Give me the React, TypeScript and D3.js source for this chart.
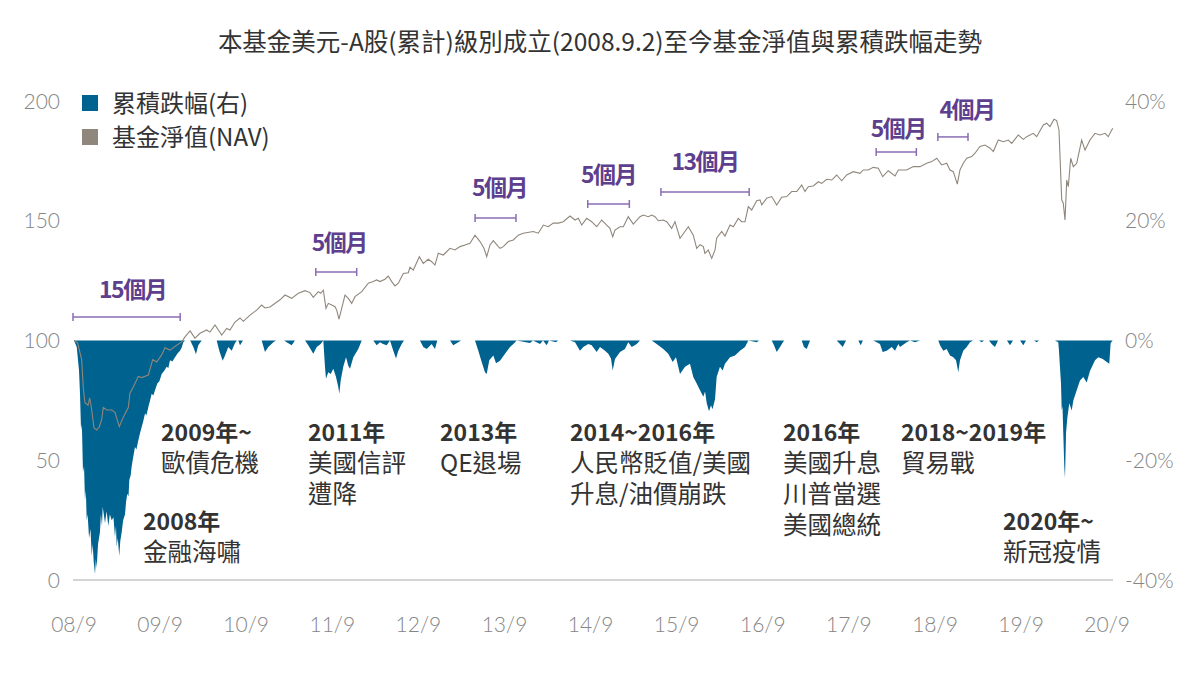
import React from "react";
import * as d3 from "d3";

// ---------- DATA ----------
const titleText = "本基金美元-A股(累計)級別成立(2008.9.2)至今基金淨值與累積跌幅走勢";
const legendLabels = ["累積跌幅(右)", "基金淨值(NAV)"];
const xTickMonths = [0, 12, 24, 36, 48, 60, 72, 84, 96, 108, 120, 132, 144];
const xTickLabels = ["08/9", "09/9", "10/9", "11/9", "12/9", "13/9", "14/9", "15/9", "16/9", "17/9", "18/9", "19/9", "20/9"];
const leftTicks = [0, 50, 100, 150, 200];
const rightTicks = [-40, -20, 0, 20, 40];

// NAV: months since 2008/9/2, value
const navMonth = [0, 0.5, 1.07, 1.3, 1.53, 1.95, 2.2, 2.47, 2.79, 3.16, 3.53, 3.86, 4.08, 4.56, 5.25, 5.71, 6.31, 6.87, 7.57, 7.8, 8.26, 8.96, 9.44, 10.36, 10.97, 11.53, 12.22, 12.68, 13.38, 14.31, 15.01, 15.47, 16.17, 16.86, 17.56, 18.49, 18.95, 19.65, 20.59, 21.28, 21.74, 22.44, 23.14, 23.6, 24.53, 25.46, 26.16, 26.62, 27.32, 28.71, 29.41, 30.34, 31.26, 32.2, 32.89, 33.35, 34.05, 34.38, 34.75, 35.12, 35.44, 35.92, 36.38, 36.61, 36.93, 37.31, 37.77, 38.23, 38.7, 39.16, 40.1, 41.02, 41.71, 42.19, 42.65, 43.34, 43.8, 44.28, 44.74, 45.2, 45.9, 46.59, 46.83, 47.29, 48.13, 48.68, 49.38, 49.85, 50.31, 50.77, 51.47, 52.4, 53.1, 53.8, 54.49, 55.19, 55.89, 56.59, 57.14, 57.52, 57.98, 58.44, 59.14, 59.4, 59.83, 60.53, 61.23, 61.92, 62.62, 64.01, 64.71, 65.41, 66.1, 66.8, 67.5, 68.19, 69.13, 69.83, 70.29, 70.76, 71.46, 72.15, 72.85, 73.55, 74.24, 74.7, 75.08, 75.4, 76.1, 76.56, 77.25, 77.95, 78.88, 79.34, 80.04, 80.52, 80.98, 81.44, 82.13, 82.61, 83.3, 83.76, 84.46, 85.62, 86.31, 86.79, 87.25, 87.71, 87.94, 88.4, 88.88, 89.34, 89.57, 90.27, 90.73, 91.43, 91.89, 92.58, 93.06, 93.52, 93.98, 94.45, 95.15, 95.61, 95.85, 96.54, 97.24, 97.94, 98.63, 99.33, 100.03, 100.73, 101.42, 101.88, 102.34, 103.04, 103.74, 104.21, 104.91, 105.6, 106.3, 107, 107.69, 108.61, 109.55, 110, 110.7, 111.4, 112.1, 112.71, 113.49, 114.43, 114.89, 116.05, 116.97, 117.91, 118.84, 119.54, 120.24, 120.93, 121.63, 122.09, 122.55, 123.11, 123.48, 123.94, 124.42, 125.11, 125.57, 126.27, 126.97, 127.67, 128.13, 128.82, 129.52, 130.22, 130.69, 131.61, 132.31, 132.78, 133.7, 134.17, 135.1, 135.57, 136.03, 136.59, 136.96, 137.28, 137.66, 137.88, 138.12, 138.36, 138.58, 138.91, 139.28, 139.75, 140.44, 140.91, 141.6, 142.3, 143, 143.69, 144.15, 144.62, 144.8];
const navValue = [100, 99, 92, 80, 74, 73, 76, 71, 63.5, 62.6, 64, 67, 72, 71, 71, 70, 64, 68, 72, 78, 80.6, 85, 84.5, 85.6, 92, 91, 94, 97, 96, 98, 99.4, 101.5, 104, 101, 103, 104.4, 103.5, 106.5, 102.3, 105, 104.4, 107.7, 109.4, 108, 110.6, 112.7, 114.8, 113.6, 114, 117, 119, 117.6, 119.7, 120.8, 120, 118, 120.4, 119.7, 121, 113.4, 115.5, 114.8, 114.1, 112.7, 108.9, 113.4, 119, 117.6, 115.5, 118.3, 120.4, 123.9, 124.6, 125.3, 124.6, 125.6, 126.9, 124.6, 122.8, 123.9, 128, 128.3, 130.6, 129.4, 135, 132.2, 133.9, 132.9, 131.5, 136.4, 135.7, 138.5, 137.8, 139.2, 139.9, 140.6, 144, 141.3, 138.5, 135, 139.9, 141.7, 139.2, 138.5, 139.2, 141.3, 142, 144, 144.8, 145.5, 144.8, 148.2, 147.5, 149, 149, 149.6, 152, 150.3, 151, 148.2, 151, 149.6, 147.5, 150.3, 148.2, 146.8, 143.3, 146.1, 147.5, 147.5, 151.7, 148.6, 151.7, 152.4, 151.7, 152.4, 151.7, 150, 150.3, 149.6, 146.8, 149.6, 142.7, 147.5, 144, 138.5, 140, 139.2, 136.4, 137.8, 134.3, 137.8, 142.7, 145.5, 143.6, 148.2, 147.5, 151, 149.6, 149.6, 155.9, 154.5, 158.4, 158.7, 156.6, 159.4, 160.1, 156.6, 159.8, 160.1, 162.2, 162.2, 164.9, 162.2, 164.2, 164.5, 166.3, 165.6, 167.3, 167, 169.1, 166.7, 169.1, 170.5, 169.8, 171.2, 171.2, 172.3, 171.9, 168.4, 170.9, 168.7, 171.2, 171.2, 172.6, 172.6, 174, 174.7, 176.1, 173.3, 174, 171.2, 170.5, 165.3, 171.2, 174, 176.1, 176.8, 178.2, 181, 181.6, 180.3, 178.9, 183.7, 183, 183.7, 182.3, 185.8, 184, 185.1, 186.5, 185.1, 190, 190.7, 189.3, 192.4, 191.8, 187.9, 158.7, 157.3, 150.3, 167, 164.2, 176.1, 172.6, 174, 183.7, 179.5, 183.7, 186.5, 185.8, 186.5, 185.1, 187.9, 188.6];

// Cumulative drawdown (%): months since 2008/9/2, value
const ddMonth = [0, 0.38, 0.7, 0.84, 0.98, 1.1, 1.25, 1.4, 1.53, 1.65, 1.77, 1.9, 2.1, 2.3, 2.47, 2.6, 2.75, 2.93, 3.05, 3.16, 3.35, 3.62, 3.75, 3.9, 4.0, 4.15, 4.32, 4.55, 4.78, 5.0, 5.25, 5.5, 5.71, 5.85, 5.95, 6.1, 6.31, 6.45, 6.65, 6.85, 7.11, 7.25, 7.43, 7.6, 7.71, 7.9, 8.04, 8.25, 8.5, 8.7, 8.96, 9.2, 9.44, 9.65, 9.9, 10.1, 10.36, 10.6, 10.83, 11.05, 11.29, 11.61, 11.9, 12.22, 12.6, 12.92, 13.15, 13.38, 13.7, 14.08, 14.4, 14.77, 15.0, 15.23, 15.47, 16.2, 16.63, 17.0, 17.32, 17.8, 19.89, 20.25, 20.72, 21.05, 21.5, 21.98, 22.44, 22.7, 22.9, 23.14, 23.55, 26.16, 26.62, 27.08, 27.78, 28.15, 29.3, 29.64, 30.34, 30.8, 32.2, 32.65, 33.35, 33.83, 34.38, 34.75, 34.98, 35.12, 35.44, 35.78, 36.14, 36.52, 36.84, 36.98, 37.17, 37.53, 37.91, 38.23, 38.47, 38.93, 39.62, 40.1, 41.71, 42.19, 42.65, 43.07, 43.58, 44.04, 44.5, 44.88, 45.2, 45.67, 45.99, 48.22, 48.68, 49.16, 49.85, 50.31, 50.63, 52.4, 52.86, 53.56, 53.94, 55.89, 56.35, 56.82, 57.28, 57.52, 57.88, 58.44, 58.82, 59.37, 60.07, 60.77, 61.23, 61.7, 63.55, 63.97, 64.95, 65.37, 65.88, 66.2, 67.18, 67.46, 69.13, 69.83, 70.52, 70.98, 71.68, 72.15, 72.85, 73.31, 74.01, 74.47, 74.84, 75.08, 75.4, 76.1, 76.79, 77.25, 77.73, 78.43, 78.88, 80.52, 81.21, 82.13, 82.83, 83.44, 83.9, 84.46, 85.16, 85.85, 86.31, 86.79, 87.25, 87.71, 87.95, 88.19, 88.5, 88.78, 88.99, 89.34, 89.57, 90.03, 90.4, 90.73, 91.43, 92.12, 92.82, 93.52, 93.98, 95.15, 95.47, 97.24, 97.56, 97.94, 98.4, 98.96, 101.42, 101.74, 102.12, 102.58, 106.3, 106.76, 107.14, 107.6, 109.31, 109.64, 109.96, 111.4, 112.33, 112.71, 113.27, 113.97, 114.43, 114.89, 115.12, 116.05, 116.52, 117.21, 117.91, 120.46, 120.7, 121.16, 121.63, 122.09, 122.55, 122.93, 123.25, 123.48, 123.94, 124.42, 124.88, 125.3, 126.13, 126.51, 126.83, 127.53, 127.9, 128.36, 128.78, 130.03, 130.45, 130.87, 131.85, 132.31, 132.68, 133.8, 134.17, 134.49, 136.72, 137.18, 137.28, 137.42, 137.56, 137.66, 137.77, 137.88, 138.02, 138.12, 138.26, 138.45, 138.72, 139.05, 139.28, 139.75, 140.21, 140.67, 141.14, 141.6, 142.3, 142.76, 143.38, 143.94, 144.29, 144.48, 144.76];
const ddValue = [0, -1.1, -5, -9, -15, -14, -22, -21, -26.7, -25, -30, -29, -33, -31.5, -36, -34, -37, -39, -36.5, -38, -34, -32, -29, -31, -27.8, -29, -30.5, -28.5, -31, -29, -30, -29.5, -32.8, -31, -34.4, -33, -36, -33.5, -32, -30, -29, -27, -25.6, -26, -23.3, -22.5, -21, -19.5, -17.8, -18.2, -16.7, -15.5, -14.4, -13.5, -12.2, -12.5, -11.1, -10, -8.9, -9.2, -8.3, -7.2, -6.8, -5.6, -5, -4.4, -4.6, -3.3, -3.5, -2.8, -2.2, -1.7, -1.2, -0.3, 0, 0, -1.1, -2.3, -0.8, 0, 0, -1.7, -3.4, -2.5, -1.1, -1.7, -0.4, 0, 0, -0.8, 0, 0, -1.9, -1.1, -0.3, 0, 0, -0.3, -0.8, 0, 0, -0.8, -2.2, -1.1, -0.6, 0, -4.4, -6.4, -5.3, -5.6, -4.7, -6.1, -7.8, -8.9, -6.7, -4.4, -2.8, -4.2, -4.7, -2.8, -1.4, 0, 0, -0.8, -0.3, -0.6, -0.8, 0, -1.7, -3, -1.7, -0.6, 0, 0, -1.1, -1.4, -0.6, -1.4, 0, 0, -0.8, -0.3, 0, 0, -1.7, -3.6, -5.3, -5.6, -3.3, -2.5, -3.8, -3.4, -2.2, -1.1, -0.6, 0, -0.4, 0, -0.6, 0, -0.8, 0, -0.3, 0, 0, -0.3, -1.7, -1.1, -0.6, -0.8, -1.9, -1.1, -1.7, -2.2, -3, -5, -3.1, -1.9, -1.4, -0.3, -1.1, -0.6, 0, 0, -0.6, -1.4, -2.2, -3.6, -2.8, -5.6, -4.4, -3.9, -6.1, -7.2, -8.3, -9.4, -8.5, -10.5, -11.8, -10.8, -11.5, -9.8, -6.1, -4.4, -5, -3.9, -2.8, -2.5, -1.7, -1.1, 0, -0.3, 0, 0, -0.8, -1.9, -1.1, 0, 0, -1.1, -1.4, 0, 0, -0.6, -1.1, 0, 0, -0.8, 0, 0, -0.6, -1.9, -1.7, -1.1, -1.7, -0.6, -1.1, -0.3, 0, -0.3, 0, 0, -0.8, -1.7, -1.4, -2.5, -2.8, -3.3, -5.3, -3.3, -1.7, -1.1, -0.3, 0, 0, -0.3, 0, 0, -0.6, -1.1, 0, 0, -0.8, 0, 0, -0.8, 0, 0, -0.3, 0, 0, -0.3, -1.7, -4.5, -7.2, -11.7, -11, -15.5, -21.1, -23, -15.5, -12.8, -10.5, -11.7, -10, -8.3, -6.7, -6.1, -7, -5.1, -3.3, -2.8, -3.1, -3.6, -3.9, -0.4, 0];

// Recovery periods (months), with NAV level of the bracket
const recLabel = ["15個月", "5個月", "5個月", "5個月", "13個月", "5個月", "4個月"];
const recStart = [-0.14, 33.7, 55.9, 71.6, 81.8, 111.8, 120.4];
const recEnd = [14.8, 39.4, 61.6, 77.4, 94.1, 117.4, 124.6];
const recLevel = [109.8, 128.6, 151.1, 157, 162, 178.7, 185];

// Event annotations
const eventTitle = ["2009年~", "2008年", "2011年", "2013年", "2014~2016年", "2016年", "2018~2019年", "2020年~"];
const eventLines = [["歐債危機"], ["金融海嘯"], ["美國信評", "遭降"], ["QE退場"], ["人民幣貶值/美國", "升息/油價崩跌"], ["美國升息", "川普當選", "美國總統"], ["貿易戰"], ["新冠疫情"]];

// ---------- LAYOUT ----------
const W = 1201, H = 673;
const eventPos = [[161, 433], [143, 522], [308, 433], [440, 433], [570, 433], [783, 433], [901, 433], [1003, 522]];
const recTextDx = [6, 3, 4, 0, 0, 2, 14];
const recTextDy = [-27, -29, -30, -29, -30, -23, -27];

const CJK = "'Noto Sans CJK TC', 'Noto Sans', sans-serif";
const NUM = "Lato, 'Open Sans', 'Noto Sans', sans-serif";
const TEAL = "#00628f";
const NAVC = "#8f877c";
const PURPLE = "#5e3f8e";
const PURPLE_L = "#8a6db5";

export default function App() {
  const x = d3.scaleLinear().domain([0, 144]).range([74, 1107.2]);
  const yL = d3.scaleLinear().domain([0, 200]).range([580, 101]);
  const yR = d3.scaleLinear().domain([-40, 40]).range([580, 101]);

  const nav = navMonth.map((m, i) => ({ m, v: navValue[i] }));
  const dd = ddMonth.map((m, i) => ({ m, v: ddValue[i] }));

  const area = d3.area<{ m: number; v: number }>()
    .x((d) => x(d.m))
    .y0(yR(0))
    .y1((d) => yR(d.v));
  const line = d3.line<{ m: number; v: number }>()
    .x((d) => x(d.m))
    .y((d) => yL(d.v));

  return (
    <svg width={W} height={H} style={{ position: "absolute", left: 0, top: 0, background: "#fff" }}>
      <rect x={0} y={0} width={W} height={H} fill="#fff" />
      <text x={600} y={51} textAnchor="middle" fontFamily={CJK} fontSize={24.5} fill="#333">{titleText}</text>

      {/* axis baseline */}
      <line x1={73} x2={1113} y1={yL(0)} y2={yL(0)} stroke="#aaa" strokeWidth={1.2} />

      {/* left ticks */}
      {leftTicks.map((t) => (
        <text key={"l" + t} x={60} y={yL(t) + 7.5} textAnchor="end" fontFamily={NUM} fontWeight={300} fontSize={21} fill="#858585">{t}</text>
      ))}
      {/* right ticks */}
      {rightTicks.map((t) => (
        <text key={"r" + t} x={1125} y={yR(t) + 7.5} textAnchor="start" fontFamily={NUM} fontWeight={300} fontSize={21} fill="#858585">{t + "%"}</text>
      ))}
      {/* x ticks */}
      {xTickMonths.map((m, i) => (
        <text key={"x" + m} x={x(m)} y={632} textAnchor="middle" fontFamily={NUM} fontWeight={300} fontSize={21} fill="#858585">{xTickLabels[i]}</text>
      ))}

      {/* drawdown area */}
      <path d={area(dd) || ""} fill={TEAL} />
      {/* NAV line */}
      <path d={line(nav) || ""} fill="none" stroke={NAVC} strokeWidth={1.1} />

      {/* legend */}
      <rect x={82} y={95} width={16} height={16} fill={TEAL} />
      <text x={112} y={112} fontFamily={CJK} fontSize={24} fill="#333">{legendLabels[0]}</text>
      <rect x={82} y={129} width={16} height={16} fill={NAVC} />
      <text x={112} y={146} fontFamily={CJK} fontSize={24} fill="#333">{legendLabels[1]}</text>

      {/* recovery brackets */}
      {recLabel.map((lab, i) => {
        const x1 = x(recStart[i]);
        const x2 = x(recEnd[i]);
        const yy = yL(recLevel[i]);
        return (
          <g key={"rec" + i}>
            <line x1={x1} x2={x2} y1={yy} y2={yy} stroke={PURPLE_L} strokeWidth={1.5} />
            <line x1={x1} x2={x1} y1={yy - 4} y2={yy + 4} stroke={PURPLE_L} strokeWidth={1.5} />
            <line x1={x2} x2={x2} y1={yy - 4} y2={yy + 4} stroke={PURPLE_L} strokeWidth={1.5} />
            <text x={(x1 + x2) / 2 + recTextDx[i]} y={yy + recTextDy[i] + 8} textAnchor="middle" fontFamily={CJK} fontWeight={700} fontSize={23} fill={PURPLE} letterSpacing={-1.5}>{lab}</text>
          </g>
        );
      })}

      {/* event annotations */}
      {eventTitle.map((t, i) => (
        <g key={"ev" + i}>
          <text x={eventPos[i][0]} y={eventPos[i][1] + 8} fontFamily={CJK} fontWeight={700} fontSize={23} fill="#333">{t}</text>
          {eventLines[i].map((s, j) => (
            <text key={j} x={eventPos[i][0]} y={eventPos[i][1] + 8 + 31 * (j + 1)} fontFamily={CJK} fontSize={24.5} fill="#333">{s}</text>
          ))}
        </g>
      ))}
    </svg>
  );
}
